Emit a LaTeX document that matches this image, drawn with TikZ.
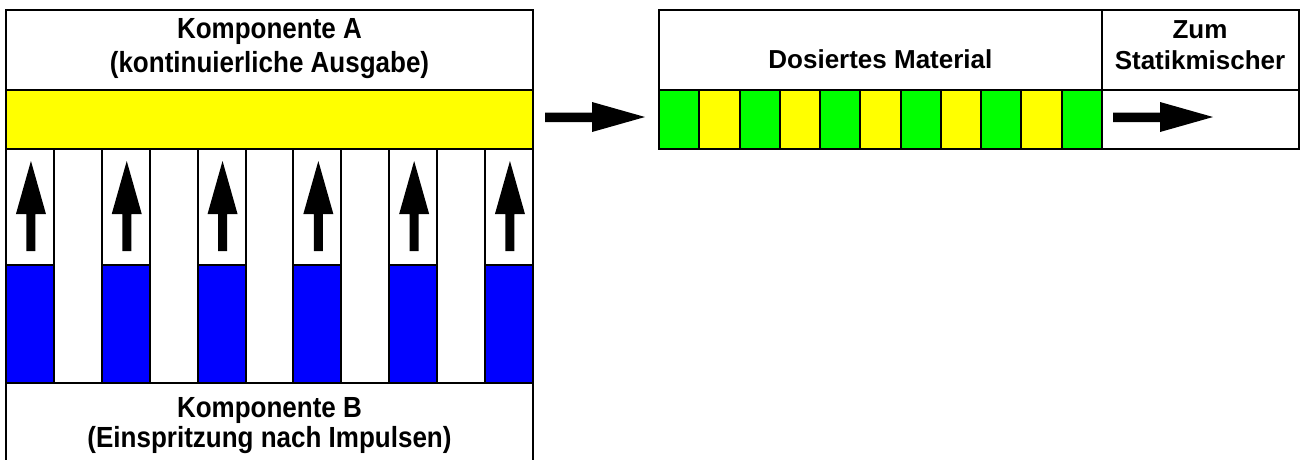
\documentclass[tikz,border=0pt]{standalone}
\usepackage{fontspec}
\usepackage{graphicx}
\setmainfont{Liberation Sans}
\definecolor{cyel}{RGB}{255,255,0}
\definecolor{cblue}{RGB}{0,0,255}
\definecolor{cgreen}{RGB}{0,255,0}
\newcommand{\tallbox}[1]{\scalebox{1}[1.12]{#1}}
\tikzset{
  frame/.style={draw=black, line width=2pt},
  lbl/.style={font=\fontsize{26}{31}\selectfont\bfseries, inner sep=0pt, anchor=base},
  blk/.style={fill=black, draw=none},
}
\begin{document}
\begin{tikzpicture}[x=1pt, y=-1pt]
\useasboundingbox (0,0) rectangle (1300,459);
% ---------- left block ----------
\fill[cyel] (6,89.5) rectangle (533,149);
\foreach \i in {0,2,4,6,8,10}{
  \pgfmathsetmacro{\xa}{6+47.9*\i}
  \pgfmathsetmacro{\xb}{6+47.9*(\i+1)}
  \pgfmathsetmacro{\xc}{(\xa+\xb)/2+1}
  \fill[cblue] (\xa,265) rectangle (\xb,383);
  \draw[frame] (\xa,265) -- (\xb,265);
  \fill[blk] (\xc-4.5,251) -- (\xc-4.5,214) -- (\xc-15,214) -- (\xc,161) -- (\xc+15,214) -- (\xc+4.5,214) -- (\xc+4.5,251) -- cycle;
}
\foreach \i in {1,...,10}{
  \pgfmathsetmacro{\xa}{6+47.9*\i}
  \draw[frame] (\xa,149) -- (\xa,383);
}
\draw[frame] (6,89.5) -- (533,89.5);
\draw[frame] (6,149) -- (533,149);
\draw[frame] (6,383) -- (533,383);
\draw[frame] (6,10) rectangle (533,461);
\node[lbl] (ka1) at (269.5,38) {\tallbox{Komponente A}};
\node[lbl] (ka2) at (269.5,72) {\tallbox{(kontinuierliche Ausgabe)}};
\node[lbl] (kb1) at (269.5,417) {\tallbox{Komponente B}};
\node[lbl] (kb2) at (269.5,447) {\tallbox{(Einspritzung nach Impulsen)}};
% ---------- middle arrow ----------
\fill[blk] (545,112.5) -- (592,112.5) -- (592,102) -- (645,117) -- (592,132) -- (592,122) -- (545,122) -- cycle;
% ---------- right block ----------
\foreach \i in {0,...,10}{
  \pgfmathsetmacro{\xa}{659+40.25*\i}
  \pgfmathsetmacro{\xb}{659+40.25*(\i+1)}
  \pgfmathparse{mod(\i,2)==0 ? 1 : 0}
  \ifnum\pgfmathresult=1
    \fill[cgreen] (\xa,89.5) rectangle (\xb,148.5);
  \else
    \fill[cyel] (\xa,89.5) rectangle (\xb,148.5);
  \fi
}
\foreach \i in {1,...,10}{
  \pgfmathsetmacro{\xa}{659+40.25*\i}
  \draw[frame] (\xa,89.5) -- (\xa,148.5);
}
\draw[frame] (659,10) rectangle (1298.5,148.5);
\draw[frame] (659,89.5) -- (1298.5,89.5);
\draw[frame] (1101.75,10) -- (1101.75,148.5);
\fill[blk] (1113,112.5) -- (1160,112.5) -- (1160,102) -- (1213,117) -- (1160,132) -- (1160,122) -- (1113,122) -- cycle;
\node[lbl] (dm) at (880.4,68) {Dosiertes Material};
\node[lbl] (zs1) at (1200,38) {Zum};
\node[lbl] (zs2) at (1200,69) {Statikmischer};
\end{tikzpicture}
\end{document}
